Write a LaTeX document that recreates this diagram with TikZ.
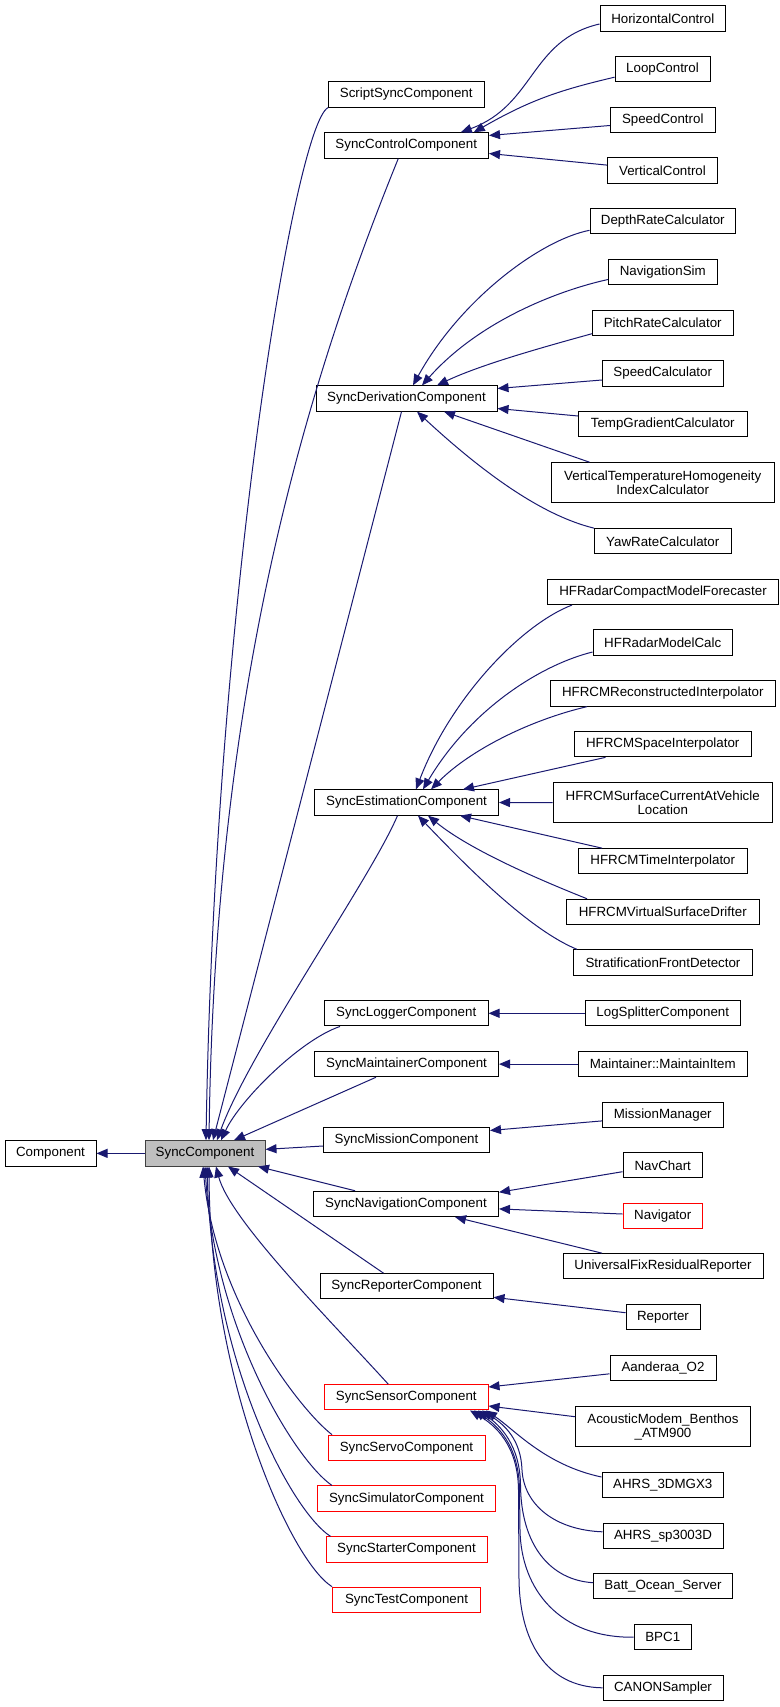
\documentclass[tikz,border=0pt]{standalone}
\usepackage{fontspec}
\setmainfont{Liberation Sans}
\usetikzlibrary{arrows.meta,calc}
\definecolor{edgeblue}{HTML}{191970}
\definecolor{syncgray}{HTML}{BFBFBF}
\definecolor{bordergray}{HTML}{404040}
\tikzset{
  box/.style={draw=black, line width=1pt, fill=white, inner sep=0pt,
    minimum height=25.3pt, font=\fontsize{13.33}{14}\selectfont, align=center},
  redbox/.style={box, draw=red},
  graybox/.style={box, fill=syncgray, draw=bordergray},
  edge/.style={draw=edgeblue, line width=1pt, {Triangle[length=11pt,width=9pt]}-}
}
\begin{document}
\begin{tikzpicture}[x=1pt,y=-1pt]
\useasboundingbox (0,0) rectangle (779,1707);
% nodes
\node[box, minimum width=91] (component) at (50.5,1153.35) {Component};
\node[graybox, minimum width=120] (sync) at (205,1153.35) {SyncComponent};
\node[box, minimum width=155.5] (script) at (406.25,94.5) {ScriptSyncComponent};
\node[box, minimum width=164.5] (control) at (406.25,145.5) {SyncControlComponent};
\node[box, minimum width=125.5] (horiz) at (662.75,18.5) {HorizontalControl};
\node[box, minimum width=95] (loop) at (662.5,69.2) {LoopControl};
\node[box, minimum width=104.5] (speedc) at (662.75,119.9) {SpeedControl};
\node[box, minimum width=110] (vertc) at (662.5,170.6) {VerticalControl};
\node[box, minimum width=145.5] (depth) at (662.75,221.3) {DepthRateCalculator};
\node[box, minimum width=108.5] (navsim) at (662.75,272) {NavigationSim};
\node[box, minimum width=140.5] (pitch) at (662.75,322.7) {PitchRateCalculator};
\node[box, minimum width=120.5] (speedcalc) at (662.75,373.5) {SpeedCalculator};
\node[box, minimum width=181] (deriv) at (406.5,398.5) {SyncDerivationComponent};
\node[box, minimum width=168.5] (temp) at (662.75,424) {TempGradientCalculator};
\node[box, minimum width=223.5, minimum height=40] (vth) at (662.75,482.7) {VerticalTemperatureHomogeneity\\IndexCalculator};
\node[box, minimum width=136.5] (yaw) at (662.75,541.3) {YawRateCalculator};
\node[box, minimum width=231] (hfcmf) at (663,591.9) {HFRadarCompactModelForecaster};
\node[box, minimum width=139.5] (hfrmc) at (662.75,642.5) {HFRadarModelCalc};
\node[box, minimum width=225.5] (recon) at (662.75,693.5) {HFRCMReconstructedInterpolator};
\node[box, minimum width=177.5] (space) at (662.75,744.2) {HFRCMSpaceInterpolator};
\node[box, minimum width=184] (est) at (406.5,802.5) {SyncEstimationComponent};
\node[box, minimum width=219.5, minimum height=40] (surf) at (662.75,802.7) {HFRCMSurfaceCurrentAtVehicle\\Location};
\node[box, minimum width=168.5] (time) at (662.75,861.3) {HFRCMTimeInterpolator};
\node[box, minimum width=192.5] (drift) at (662.75,911.9) {HFRCMVirtualSurfaceDrifter};
\node[box, minimum width=179] (strat) at (663,962.5) {StratificationFrontDetector};
\node[box, minimum width=163.5] (logger) at (406.25,1013.3) {SyncLoggerComponent};
\node[box, minimum width=155.5] (logsplit) at (662.75,1013.3) {LogSplitterComponent};
\node[box, minimum width=184] (maint) at (406.5,1064.1) {SyncMaintainerComponent};
\node[box, minimum width=169.5] (maintitem) at (662.75,1064.1) {Maintainer::MaintainItem};
\node[box, minimum width=120.5] (missionmgr) at (662.75,1114.9) {MissionManager};
\node[box, minimum width=166] (mission) at (406.5,1140.3) {SyncMissionComponent};
\node[box, minimum width=79.5] (navchart) at (662.75,1165.3) {NavChart};
\node[box, minimum width=185] (navcomp) at (406,1203.9) {SyncNavigationComponent};
\node[redbox, minimum width=79.5] (navigator) at (662.75,1216) {Navigator};
\node[box, minimum width=200] (ufrr) at (663,1266.3) {UniversalFixResidualReporter};
\node[box, minimum width=173] (repc) at (406.5,1286.3) {SyncReporterComponent};
\node[box, minimum width=74] (reporter) at (663,1317) {Reporter};
\node[box, minimum width=106] (aanderaa) at (663,1367.8) {Aanderaa\_O2};
\node[redbox, minimum width=163.5] (sensor) at (406.25,1397.3) {SyncSensorComponent};
\node[box, minimum width=175, minimum height=40] (acoustic) at (663,1426.7) {AcousticModem\_Benthos\\\_ATM900};
\node[redbox, minimum width=157] (servo) at (406.5,1447.8) {SyncServoComponent};
\node[box, minimum width=121.5] (ahrs3) at (662.75,1485.3) {AHRS\_3DMGX3};
\node[redbox, minimum width=178] (sim) at (406.5,1498.6) {SyncSimulatorComponent};
\node[box, minimum width=120] (ahrssp) at (663,1535.8) {AHRS\_sp3003D};
\node[redbox, minimum width=161] (starter) at (406.5,1549.5) {SyncStarterComponent};
\node[box, minimum width=139] (batt) at (663,1586.3) {Batt\_Ocean\_Server};
\node[redbox, minimum width=148] (test) at (406.5,1599.8) {SyncTestComponent};
\node[box, minimum width=57.5] (bpc1) at (662.75,1637.2) {BPC1};
\node[box, minimum width=120] (canon) at (663,1687.8) {CANONSampler};
% edges to Component / SyncComponent
\draw[edge] (component.east) -- (sync.west);
\draw[edge] ($(sync.north)+(1,0)$) .. controls (215,600) and (295,125) .. (script.south west);
\draw[edge] ($(sync.north)+(4,0)$) .. controls (215,700) and (300,400) .. ($(control.south)+(-8,0)$);
\draw[edge] ($(sync.north)+(8,0)$) -- ($(deriv.south)+(-5,0)$);
\draw[edge] ($(sync.north)+(12,0)$) .. controls (250,1050) and (370,880) .. ($(est.south)+(-9,0)$);
\draw[edge] ($(sync.north)+(16,0)$) .. controls (240,1100) and (300,1040) .. ($(logger.south west)+(16,0)$);
\draw[edge] ($(sync.north)+(29,0)$) -- ($(maint.south)+(-30.5,0)$);
\draw[edge] ($(sync.east)+(0,-4)$) -- ($(mission.west)+(0,5.7)$);
\draw[edge] ($(sync.south)+(53,0)$) -- ($(navcomp.north)+(-51,0)$);
\draw[edge] ($(sync.south)+(23,0)$) -- ($(repc.north)+(-23,0)$);
\draw[edge] ($(sync.south)+(11,0)$) .. controls (230,1220) and (330,1320) .. ($(sensor.north)+(-18,0)$);
\draw[edge] ($(sync.south)+(-2,0)$) .. controls (215,1300) and (300,1410) .. ($(servo.north west)+(4.5,0)$);
\draw[edge] (sync.south) .. controls (215,1330) and (295,1460) .. ($(sim.north west)+(15,0)$);
\draw[edge] ($(sync.south)+(2,0)$) .. controls (212,1360) and (290,1510) .. ($(starter.north west)+(5,0)$);
\draw[edge] ($(sync.south)+(4,0)$) .. controls (210,1380) and (290,1560) .. (test.north west);
% SyncControlComponent
\draw[edge] ($(control.north)+(54.5,0)$) .. controls (535,105) and (530,40) .. ($(horiz.west)+(0,5.5)$);
\draw[edge] ($(control.north)+(67.5,0)$) .. controls (530,100) and (560,90) .. ($(loop.west)+(0,8)$);
\draw[edge] ($(control.east)+(0,-10)$) -- ($(speedc.west)+(0,5.6)$);
\draw[edge] ($(control.east)+(0,8)$) -- ($(vertc.west)+(0,-5.5)$);
% SyncDerivationComponent
\draw[edge] ($(deriv.north)+(6.5,0)$) .. controls (460,300) and (540,240) .. ($(depth.west)+(0,9)$);
\draw[edge] ($(deriv.north)+(15.5,0)$) .. controls (480,320) and (560,290) .. ($(navsim.west)+(0,7.5)$);
\draw[edge] ($(deriv.north)+(30.5,0)$) .. controls (480,365) and (540,348) .. ($(pitch.west)+(0,11)$);
\draw[edge] ($(deriv.east)+(0,-10)$) -- ($(speedcalc.west)+(0,6.5)$);
\draw[edge] ($(deriv.east)+(0,10)$) -- ($(temp.west)+(0,-8)$);
\draw[edge] ($(deriv.south)+(37.5,0)$) -- ($(vth.north west)+(39,0)$);
\draw[edge] ($(deriv.south)+(10.5,0)$) .. controls (480,470) and (540,515) .. (yaw.north west);
% SyncEstimationComponent
\draw[edge] ($(est.north)+(9.5,0)$) .. controls (450,700) and (520,625) .. ($(hfcmf.south west)+(25,0)$);
\draw[edge] ($(est.north)+(16.5,0)$) .. controls (470,710) and (540,665) .. ($(hfrmc.west)+(0,9.5)$);
\draw[edge] ($(est.north)+(24.5,0)$) .. controls (470,750) and (530,720) .. ($(recon.south west)+(37.5,0)$);
\draw[edge] ($(est.north)+(56.5,0)$) -- ($(space.south west)+(32,0)$);
\draw[edge] (est.east) -- (surf.west);
\draw[edge] ($(est.south)+(53.5,0)$) -- ($(time.north west)+(24,0)$);
\draw[edge] ($(est.south)+(21.5,0)$) .. controls (470,850) and (540,880) .. ($(drift.north west)+(21,0)$);
\draw[edge] ($(est.south)+(11.5,0)$) .. controls (470,870) and (530,930) .. ($(strat.north west)+(4,0)$);
% single children
\draw[edge] (logger.east) -- (logsplit.west);
\draw[edge] (maint.east) -- (maintitem.west);
\draw[edge] ($(mission.east)+(0,-9.8)$) -- ($(missionmgr.west)+(0,6)$);
\draw[edge] ($(navcomp.north east)+(0,1.5)$) -- ($(navchart.west)+(0,6.4)$);
\draw[edge] ($(navcomp.east)+(0,5)$) -- ($(navigator.west)+(0,-2)$);
\draw[edge] ($(navcomp.south)+(49,0)$) -- ($(ufrr.north west)+(39.5,0)$);
\draw[edge] ($(repc.east)+(0,11)$) -- ($(reporter.west)+(0,-4.3)$);
% SyncSensorComponent
\draw[edge] ($(sensor.east)+(0,-10.3)$) -- ($(aanderaa.west)+(0,6)$);
\draw[edge] ($(sensor.east)+(0,8.7)$) -- ($(acoustic.west)+(0,-10)$);
\draw[edge] ($(sensor.south)+(79.75,0)$) .. controls (515,1430) and (545,1465) .. ($(ahrs3.west)+(0,-8.3)$);
\draw[edge] ($(sensor.south)+(75.75,0)$) .. controls (505,1425) and (521,1440) .. (522,1470) .. controls (524,1505) and (555,1530) .. ($(ahrssp.west)+(0,-4)$);
\draw[edge] ($(sensor.south)+(71.75,0)$) .. controls (500,1425) and (520,1445) .. (520.5,1485) .. controls (521,1545) and (550,1580) .. ($(batt.west)+(0,-3.6)$);
\draw[edge] ($(sensor.south)+(67.75,0)$) .. controls (497,1425) and (519,1445) .. (519.5,1490) -- (520,1530) .. controls (521,1590) and (560,1638) .. (bpc1.west);
\draw[edge] ($(sensor.south)+(63.75,0)$) .. controls (495,1425) and (518,1445) .. (518.5,1490) -- (519,1580) .. controls (520,1640) and (545,1687) .. (canon.west);
\end{tikzpicture}
\end{document}
